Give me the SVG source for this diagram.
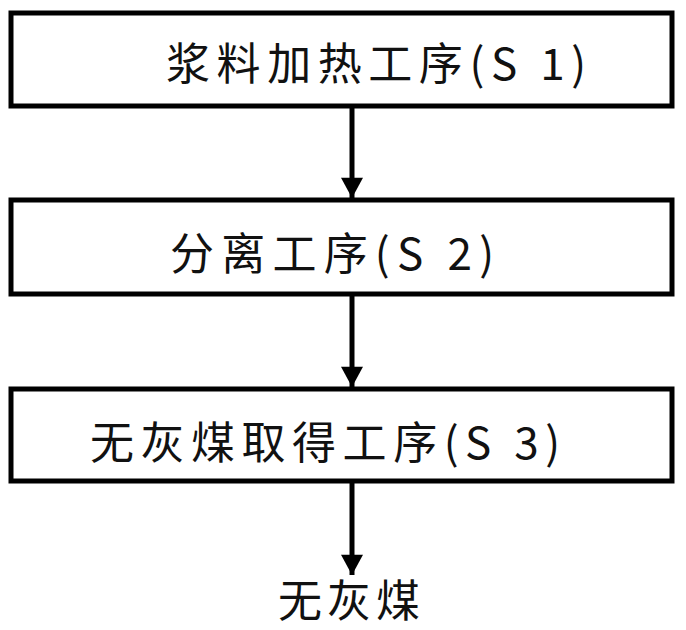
<svg xmlns="http://www.w3.org/2000/svg" width="686" height="630" viewBox="0 0 686 630">
<style>
.box{fill:#fff;stroke:#000;stroke-width:5}
.lbl{font-family:"Noto Sans CJK SC","Noto Sans CJK JP",sans-serif;font-size:44px;fill:#111}
.con{stroke:#000;stroke-width:5;fill:none}
</style>
<defs>
<marker id="ah" markerUnits="userSpaceOnUse" markerWidth="24" markerHeight="22" refX="22" refY="12" orient="auto" viewBox="0 0 24 24">
<path d="M0,0 L22,12 L0,24 Z" fill="#000"/>
</marker>
</defs>
<rect width="686" height="630" fill="#fff"/>
<g id="connectors">
<line class="con" x1="352" y1="106" x2="352" y2="198" marker-end="url(#ah)"/>
<line class="con" x1="352" y1="294" x2="352" y2="387" marker-end="url(#ah)"/>
<line class="con" x1="352" y1="481" x2="352" y2="575" marker-end="url(#ah)"/>
</g>
<g id="s1">
<rect class="box" x="11" y="13" width="661" height="93"/>
<text class="lbl" x="166" y="80" textLength="420" lengthAdjust="spacing">浆料加热工序(S 1)</text>
</g>
<g id="s2">
<rect class="box" x="11" y="200" width="661" height="94"/>
<text class="lbl" x="170" y="270" textLength="324" lengthAdjust="spacing">分离工序(S 2)</text>
</g>
<g id="s3">
<rect class="box" x="11" y="389" width="661" height="92"/>
<text class="lbl" x="90" y="459" textLength="470" lengthAdjust="spacing">无灰煤取得工序(S 3)</text>
</g>
<g id="out">
<text class="lbl" x="278" y="617" textLength="142" lengthAdjust="spacing">无灰煤</text>
</g>
</svg>
